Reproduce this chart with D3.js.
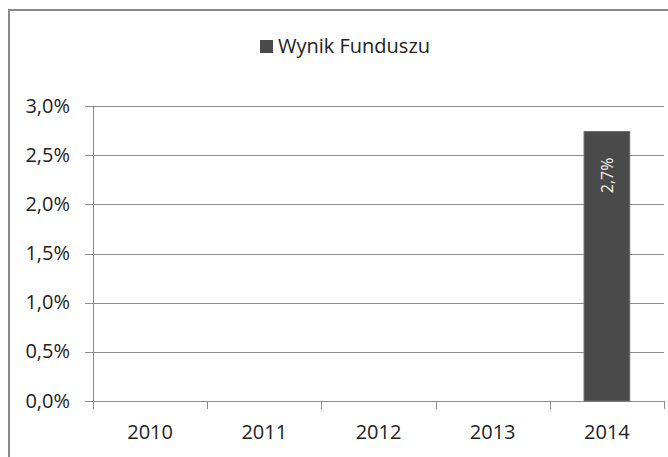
<!DOCTYPE html>
<html>
<head>
<meta charset="utf-8">
<script src="https://cdn.jsdelivr.net/npm/d3@7"></script>
<style>
  body { margin: 0; background: #fff; }
  svg { display: block; font-family: "Open Sans", sans-serif; }
</style>
</head>
<body>
<div id="chart"></div>
<script>
const years = ['2010', '2011', '2012', '2013', '2014'];
const wynik = [null, null, null, null, 2.74];
const yTicks = [0, 0.5, 1, 1.5, 2, 2.5, 3];
const seriesName = 'Wynik Funduszu';

const width = 668;
const height = 457;
const plotLeft = 93, plotRight = 664, plotTop = 106, plotBottom = 401;

const svg = d3.select('#chart')
              .append('svg')
              .attr('width', width)
              .attr('height', height);

// outer frame
svg.append('rect')
   .attr('x', 9).attr('y', 10)
   .attr('width', 700).attr('height', 500)
   .attr('fill', 'none')
   .attr('stroke', '#8a8a8a')
   .attr('stroke-width', 2);

const fmt = v => d3.format('.1f')(v).replace('.', ',') + '%';

const xScale = d3.scaleBand()
                 .domain(years)
                 .range([plotLeft, plotRight])
                 .paddingInner(0.6)
                 .paddingOuter(0.3);

const yScale = d3.scaleLinear()
                 .domain([0, 3])
                 .range([plotBottom, plotTop]);

// gridlines
svg.append('g')
   .selectAll('line')
   .data(yTicks)
   .join('line')
   .attr('x1', plotLeft - 8).attr('x2', plotRight)
   .attr('y1', d => Math.round(yScale(d)) + 0.5)
   .attr('y2', d => Math.round(yScale(d)) + 0.5)
   .attr('stroke', '#8c8c8c');

// y labels
svg.append('g')
   .selectAll('text')
   .data(yTicks)
   .join('text')
   .attr('x', 70)
   .attr('y', d => yScale(d))
   .attr('dy', '0.33em')
   .attr('text-anchor', 'end')
   .attr('font-size', 20)
   .attr('fill', '#222')
   .text(fmt);

// y axis line
svg.append('line')
   .attr('x1', plotLeft + 0.5).attr('x2', plotLeft + 0.5)
   .attr('y1', yScale(3)).attr('y2', yScale(0))
   .attr('stroke', '#8c8c8c');

// x ticks at band boundaries
const boundaries = d3.range(years.length + 1).map(i => plotLeft + i * (plotRight - plotLeft) / years.length);
svg.append('g')
   .selectAll('line')
   .data(boundaries)
   .join('line')
   .attr('x1', d => Math.round(d) + 0.5).attr('x2', d => Math.round(d) + 0.5)
   .attr('y1', Math.round(yScale(0))).attr('y2', Math.round(yScale(0)) + 8)
   .attr('stroke', '#8c8c8c');

// x labels
svg.append('g')
   .selectAll('text')
   .data(years)
   .join('text')
   .attr('x', d => xScale(d) + xScale.bandwidth() / 2)
   .attr('y', 439)
   .attr('text-anchor', 'middle')
   .attr('font-size', 20)
   .attr('fill', '#222')
   .text(d => d);

// bars
const data = years.map((y, i) => ({ year: y, value: wynik[i] })).filter(d => d.value != null);

svg.append('g')
   .selectAll('rect')
   .data(data)
   .join('rect')
   .attr('x', d => xScale(d.year))
   .attr('y', d => yScale(d.value))
   .attr('width', xScale.bandwidth())
   .attr('height', d => yScale(0) - yScale(d.value))
   .attr('fill', '#4a4a4a')
   .attr('stroke', '#6a6a6a')
   .attr('stroke-width', 1);

// bar labels
svg.append('g')
   .selectAll('text')
   .data(data)
   .join('text')
   .attr('transform', d => 'translate(' + (xScale(d.year) + xScale.bandwidth() / 2) + ',' + (yScale(d.value) + 26) + ') rotate(-90)')
   .attr('dy', '0.35em')
   .attr('text-anchor', 'end')
   .attr('font-size', 16)
   .attr('fill', '#f0f0f0')
   .text(d => fmt(Math.floor(d.value * 10) / 10));

// legend
const legend = svg.append('g');
legend.append('rect')
      .attr('x', 260).attr('y', 40)
      .attr('width', 13).attr('height', 13)
      .attr('fill', '#4a4a4a');
legend.append('text')
      .attr('x', 278).attr('y', 53)
      .attr('font-size', 20)
      .attr('fill', '#222')
      .text(seriesName);
</script>
</body>
</html>
